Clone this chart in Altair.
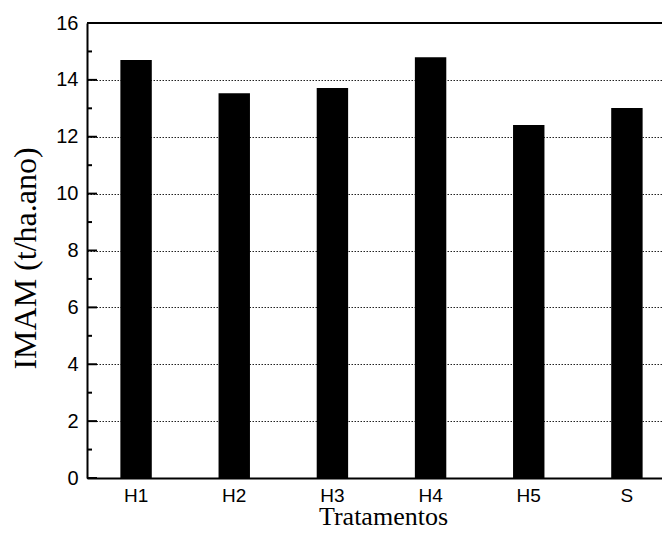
import altair as alt
import pandas as pd

categories = ["H1", "H2", "H3", "H4", "H5", "S"]
values = [14.70, 13.53, 13.71, 14.80, 12.41, 13.01]
major_ticks = [0, 2, 4, 6, 8, 10, 12, 14, 16]
minor_ticks = [1, 3, 5, 7, 9, 11, 13, 15]

df = pd.DataFrame({"Tratamento": categories, "IMAM": values})
df_major = pd.DataFrame({"IMAM": major_ticks})
df_minor = pd.DataFrame({"IMAM": minor_ticks})

yscale = alt.Scale(domain=[0, 16], nice=False)

yaxis = alt.Axis(
    title="IMAM (t/ha.ano)",
    values=major_ticks,
    format="d",
    ticks=False,
    tickSize=0,
    domain=True,
    domainColor="black",
    domainWidth=2,
    labelPadding=9,
    labelFont="Liberation Sans",
    labelFontSize=20,
    labelColor="black",
    grid=True,
    gridColor="#222222",
    gridDash=[1.5, 1.5],
    gridWidth=1,
    titleFont="Liberation Serif",
    titleFontSize=32,
    titleFontWeight="normal",
    titleColor="black",
    titleAngle=270,
    titleX=-52,
    titleY=235,
    titleAlign="center",
    titleBaseline="alphabetic",
)

bars = alt.Chart(df).mark_bar(color="black").encode(
    x=alt.X(
        "Tratamento:N",
        sort=categories,
        scale=alt.Scale(paddingInner=0.68, paddingOuter=0.34, range=[0, 589]),
        axis=alt.Axis(
            title="Tratamentos",
            labelAngle=0,
            ticks=False,
            tickSize=0,
            domain=True,
            domainColor="black",
            domainWidth=2,
            labelPadding=8,
            labelFont="Liberation Sans",
            labelFontSize=19,
            labelColor="black",
            titleFont="Liberation Serif",
            titleFontSize=26,
            titleFontWeight="normal",
            titleColor="black",
            titleX=296,
            titleY=46,
            titleBaseline="alphabetic",
            titleAlign="center",
        ),
    ),
    y=alt.Y("IMAM:Q", scale=yscale, axis=yaxis),
)

major = alt.Chart(df_major).mark_rule(color="black", strokeWidth=2).encode(
    y=alt.Y("IMAM:Q", scale=yscale, axis=yaxis),
    x=alt.value(0),
    x2=alt.value(10),
)
minor = alt.Chart(df_minor).mark_rule(color="black", strokeWidth=2).encode(
    y=alt.Y("IMAM:Q", scale=yscale, axis=yaxis),
    x=alt.value(0),
    x2=alt.value(5),
)
top_line = alt.Chart(pd.DataFrame({"k": [0]})).mark_rule(color="black", strokeWidth=2).encode(
    y=alt.value(0),
    x=alt.value(0),
    x2=alt.value(575),
)

chart = (
    alt.layer(bars, major, minor, top_line)
    .properties(
        width=575,
        height=455,
        autosize=alt.AutoSizeParams(type="none"),
        padding={"left": 79, "top": 15, "right": 0, "bottom": 52},
        background="white",
    )
    .configure_view(stroke=None)
)

chart.save("out.html", embed_options={"renderer": "svg", "actions": False})
